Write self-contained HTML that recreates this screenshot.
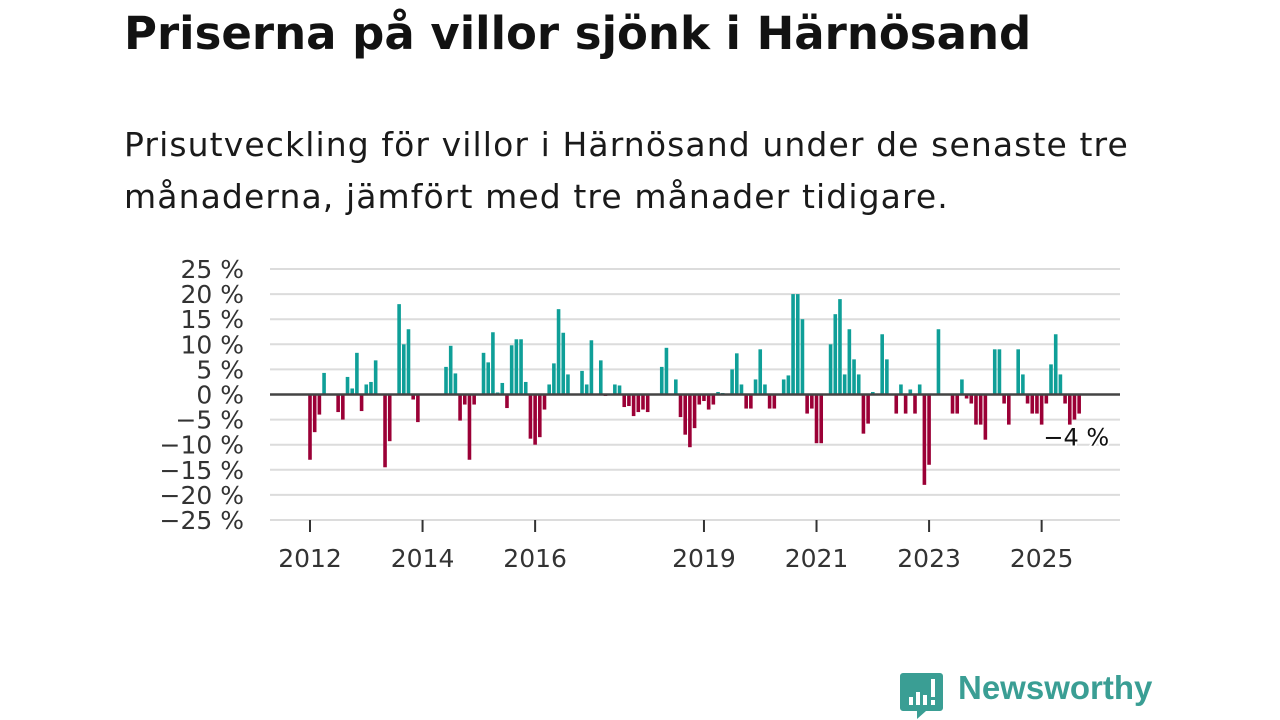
<!DOCTYPE html>
<html><head><meta charset="utf-8">
<style>
body{margin:0;width:1280px;height:720px;background:#fff;font-family:"Liberation Sans","DejaVu Sans",sans-serif;overflow:hidden;position:relative}
h1{position:absolute;left:124px;top:7px;margin:0;font-size:45px;font-weight:bold;color:#121212;font-family:"DejaVu Sans","Liberation Sans",sans-serif;letter-spacing:0px}
.sub{position:absolute;left:124px;top:119px;margin:0;font-size:33px;line-height:52px;color:#1a1a1a;font-family:"DejaVu Sans","Liberation Sans",sans-serif;font-weight:normal;letter-spacing:1.1px}
svg{position:absolute;left:0;top:0}
.logo{position:absolute;left:958px;top:669px;font-size:33px;font-weight:bold;color:#3a9e94;font-family:"Liberation Sans",sans-serif}
</style></head><body>
<h1>Priserna på villor sjönk i Härnösand</h1>
<p class="sub">Prisutveckling för villor i Härnösand under de senaste tre<br>månaderna, jämfört med tre månader tidigare.</p>
<svg id="chart" width="1280" height="720"></svg>
<svg width="1280" height="720">
<path d="M903 673 h37 a3 3 0 0 1 3 3 v32 a3 3 0 0 1-3 3 h-14 l-9 8 v-8 h-14 a3 3 0 0 1-3-3 v-32 a3 3 0 0 1 3-3z" fill="#3a9e94"/>
<rect x="909" y="697" width="4" height="8" fill="#fff"/><rect x="916" y="692" width="4" height="13" fill="#fff"/><rect x="923" y="695" width="4" height="10" fill="#fff"/><rect x="931" y="679" width="4" height="18" fill="#fff"/><rect x="931" y="700" width="4" height="5" fill="#fff"/>
</svg>
<div class="logo">Newsworthy</div>
<script>
const values=[-13,-7.5,-4,4.3,null,null,-3.5,-5,3.5,1.2,8.3,-3.3,2,2.5,6.8,null,-14.5,-9.3,null,18,10,13,-1,-5.5,null,null,null,null,null,5.5,9.7,4.2,-5.2,-2,-13,-2,null,8.3,6.4,12.4,0.4,2.3,-2.7,9.8,11,11,2.5,-8.8,-10,-8.5,-3,2,6.2,17,12.3,4,null,null,4.7,2,10.8,null,6.8,-0.3,null,2,1.8,-2.5,-2.3,-4.3,-3.5,-3,-3.5,null,null,5.5,9.3,null,3,-4.5,-8,-10.5,-6.7,-2,-1.3,-3,-2,0.5,0.3,null,5,8.2,2,-2.8,-2.8,3,9,2,-2.8,-2.8,null,3,3.8,20,20,15,-3.8,-2.8,-9.7,-9.7,null,10,16,19,4,13,7,4,-7.8,-5.8,0.5,null,12,7,null,-3.8,2,-3.8,1,-3.8,2,-18,-14,null,13,null,null,-3.8,-3.8,3,-0.8,-1.8,-6,-6,-9,null,9,9,-1.8,-6,null,9,4,-1.8,-3.8,-3.8,-6,-1.8,6,12,4,-1.8,-6,-5,-3.8];
const startYear=2012;
const yTicks=[25,20,15,10,5,0,-5,-10,-15,-20,-25];
const xTickYears=[2012,2014,2016,2019,2021,2023,2025];
const lastLabel="\u22124 %";
const svg=document.getElementById('chart');
const NS='http://www.w3.org/2000/svg';
const y=v=>394.5-v*5.02;
const x=m=>310+m*4.69;
function mk(t,a){const e=document.createElementNS(NS,t);for(const k in a)e.setAttribute(k,a[k]);svg.appendChild(e);return e;}
yTicks.forEach(t=>{
  const g=mk('line',{x1:270,x2:1120,y1:y(t),y2:y(t),stroke:t===0?'none':'#dcdcdc','stroke-width':2});
  
  
  const l=mk('text',{x:244,y:y(t)+9,'text-anchor':'end','font-size':25,fill:'#333','font-family':'"DejaVu Sans","Liberation Sans",sans-serif'});
  l.textContent=(t<0?'\u2212'+(-t):t)+' %';
  
  
});
values.forEach((v,i)=>{
  if(v===null)return;
  const r=mk('rect',{x:x(i)-1.8,width:3.6,y:Math.min(y(v),y(0)),height:Math.abs(y(v)-y(0)),fill:v>=0?'#0f9f98':'#9b0036'});
  
  
});
const z=mk('line',{x1:270,x2:1120,y1:y(0),y2:y(0),stroke:'#444','stroke-width':2.5});


xTickYears.forEach(yr=>{
  const px=x((yr-startYear)*12);
  const t=mk('line',{x1:px,x2:px,y1:520,y2:532,stroke:'#333','stroke-width':2});
  
  
  const l=mk('text',{x:px,y:567,'text-anchor':'middle','font-size':25,fill:'#333','font-family':'"DejaVu Sans","Liberation Sans",sans-serif'});
  l.textContent=yr;
  
  
});
const li=values.length-1;
const lab=mk('text',{x:x(li)+30,y:y(values[li])+32,'text-anchor':'end','font-size':24,fill:'#111',stroke:'#fff','stroke-width':4,'paint-order':'stroke','font-family':'"DejaVu Sans","Liberation Sans",sans-serif'});
lab.textContent=lastLabel;


</script>
</body></html>
